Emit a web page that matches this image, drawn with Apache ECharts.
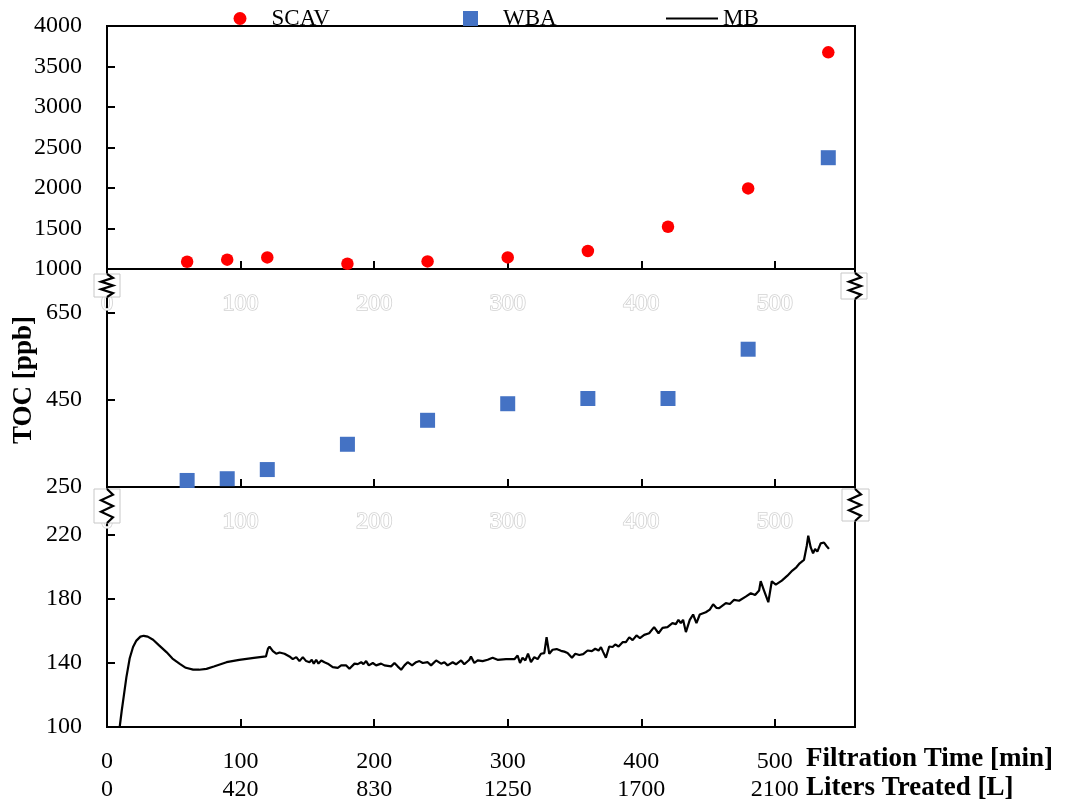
<!DOCTYPE html>
<html>
<head>
<meta charset="utf-8">
<script src="https://cdn.jsdelivr.net/npm/echarts@6/dist/echarts.min.js"></script>
<style>
  html, body { margin: 0; padding: 0; background: #fff; }
  #chart { width: 1072px; height: 803px; }
</style>
</head>
<body>
<div id="chart"></div>
<script>
// Shared x-axis tick labels: filtration time and the matching treated volume
const timeTicks = [0, 100, 200, 300, 400, 500];
const litersTicks = [0, 420, 830, 1250, 1700, 2100];

// Grab samples (min) and TOC (ppb) for the two resin effluents
const sampleTimes = [60, 90, 120, 180, 240, 300, 360, 420, 480, 540];
const scavToc = [1090, 1115, 1143, 1065, 1094, 1143, 1222, 1522, 1995, 3675];
const wbaToc = [265, 269, 290, 348, 403, 441, 453, 453, 566, 2374];

// Online MB effluent TOC trace
const mbTime = [
  9.5, 11, 12.5, 14.5, 17, 19.5, 22, 25, 27.5, 30.5, 34.5, 39, 44.5, 49, 54.5, 59, 64.5, 69, 74.5, 80,
  89.5, 99, 110, 119, 120.5, 121.7, 124.2, 126.7, 129.2, 132.9, 136.6, 139.1, 141.7, 144.1, 146.6, 149.1,
  151.6, 153.3, 154.8, 156.6, 158.3, 160.4, 162.8, 165.3, 169, 172.8, 175.3, 179.1, 181.5, 185.3, 187.7,
  190.3, 192, 194, 196, 199, 201.5, 205.2, 207.7, 212.7, 215.2, 217.6, 220.2, 222.7, 225.1, 228.4, 231.4,
  233.9, 236.4, 240.1, 242.6, 246.4, 250.1, 252.6, 255, 258.8, 261.3, 265.1, 267.5, 271.3, 272.5, 275,
  277.5, 281.2, 285, 288.7, 292.4, 298.7, 305, 307.4, 309.2, 311.1, 313.2, 315.2, 317.4, 319.9, 322.4,
  324.9, 327.4, 329.1, 331.1, 333.6, 336.6, 339.9, 342.4, 344.8, 348.1, 350.6, 353.6, 356.5, 359.8, 363,
  365.5, 368, 369.8, 371.5, 373.5, 376, 378.5, 380.5, 383, 386, 388.5, 391, 393.5, 396.4, 399, 402.2,
  405.9, 409.6, 412.9, 415.9, 419.6, 423.3, 425.9, 427.8, 429.6, 431.3, 433.4, 436.3, 438.8, 441.3, 443.8,
  448.3, 451.3, 453.8, 456.2, 458.3, 463.3, 466.3, 469.5, 473.2, 478.2, 482, 485.2, 488.2, 489.4, 491.9,
  495.1, 497.7, 500.7, 505.2, 509.4, 513.1, 516.1, 518.6, 521.8, 523.9, 525, 526.8, 528.6, 530.1, 531.8,
  534.3, 536.8, 538.5, 540.5
];
const mbToc = [
  100, 110, 119, 131, 143, 150, 154, 156.5, 157, 156.5, 154.5, 151, 146.8, 142.8, 139.5, 137, 135.9, 135.8, 136.3, 137.8,
  140.5, 142, 143.2, 144.1, 148.9, 150.3, 147.4, 145.8, 146.6, 145.8, 144.1, 142.4, 143.7, 141.2, 143.7, 141.2,
  140.5, 142, 139.6, 142, 139.6, 141.6, 140.5, 139.6, 137.4, 137, 138.5, 138.5, 136.4, 139.6, 139.3,
  140.5, 139.3, 141.2, 138.5, 140, 138.5, 139.6, 138.5, 137.9, 140, 137.9, 135.8, 138.5, 140.5, 138.5, 140.5,
  141.2, 140, 140.5, 138.5, 141.6, 139.6, 140.5, 138.5, 140.5, 139.2, 141.6, 139.2, 142, 144.1, 140,
  141.6, 141.2, 142, 143.3, 142, 142.4, 142.4, 144.7, 140, 143.3, 141.6, 145.8, 140.5, 143.7, 142.4,
  145.8, 146.2, 156.1, 145.8, 148.3, 148.7, 147.6, 147.1, 146.3, 143.3, 145.8, 145, 145.5, 147.8, 147.4,
  148.9, 147.8, 149.9, 146.8, 143.3, 150.3, 150, 151.6, 150.3, 153, 153, 156.1, 154.3, 157.2, 155.6, 157.6,
  158.6, 162.4, 158.6, 162, 162.4, 164.9, 164.3, 167, 164.9, 167, 159.3, 167, 170.3, 164.9, 170.3,
  171.7, 173.4, 176.7, 174.5, 174.3, 177.4, 176.9, 179.5, 178.9, 181.5, 183.6, 182.5, 185.3, 191.1, 185.3,
  178, 191.1, 189, 191.5, 194.6, 197.8, 199.8, 202.3, 204.4, 213.3, 219.6, 212.4, 208.5, 211.2, 209.6,
  214.8, 215.3, 213.3, 211.3
];

const SERIF = '"Liberation Serif", "Times New Roman", serif';
const TICK_FONT = 24;

const pairs = (xs, ys) => xs.map((x, i) => [x, ys[i]]);
const wbaAll = pairs(sampleTimes, wbaToc);
const wbaLow = wbaAll.filter(p => p[1] <= 750);   // middle (broken) panel
const wbaHigh = wbaAll.filter(p => p[1] >= 1000); // upper panel

const GRID_LEFT = 107, GRID_WIDTH = 748;
const grids = [
  { left: GRID_LEFT, width: GRID_WIDTH, top: 26, height: 243 },
  { left: GRID_LEFT, width: GRID_WIDTH, top: 269, height: 218 },
  { left: GRID_LEFT, width: GRID_WIDTH, top: 487, height: 240 }
].map(g => Object.assign(g, {
  show: true, borderColor: '#000', borderWidth: 2, backgroundColor: 'transparent',
  containLabel: false, outerBoundsMode: 'none'
}));

const axisLine = { show: true, lineStyle: { color: '#000', width: 2 } };
const axisTick = { show: true, inside: true, length: 8, lineStyle: { color: '#000', width: 2 } };

// Labels of the upper panels: white text with a faint outline
const ghostLabel = {
  show: true, margin: 21, fontFamily: SERIF, fontSize: TICK_FONT, lineHeight: 28,
  color: '#ffffff', textBorderColor: '#d2d2d2', textBorderWidth: 1.6,
  showMaxLabel: false, formatter: v => String(v)
};

function xAxisFor(gridIndex, label) {
  return {
    type: 'value', gridIndex, min: 0, max: 560, interval: 100,
    axisLine, axisTick, splitLine: { show: false }, axisLabel: label
  };
}

const xAxes = [
  xAxisFor(0, ghostLabel),
  xAxisFor(1, ghostLabel),
  xAxisFor(2, {
    show: true, margin: 21, showMaxLabel: false,
    formatter: v => {
      const i = timeTicks.indexOf(v);
      return i < 0 ? '' : '{t|' + timeTicks[i] + '}\n{l|' + litersTicks[i] + '}';
    },
    rich: {
      t: { fontFamily: SERIF, fontSize: TICK_FONT, lineHeight: 28, color: '#000' },
      l: { fontFamily: SERIF, fontSize: TICK_FONT, lineHeight: 28, color: '#000' }
    }
  })
];

function yAxisFor(gridIndex, min, max, interval, showMax) {
  return {
    type: 'value', gridIndex, min, max, interval,
    axisLine, axisTick, splitLine: { show: false },
    axisLabel: {
      margin: 25, fontFamily: SERIF, fontSize: TICK_FONT, color: '#000',
      showMaxLabel: showMax, showMinLabel: true, formatter: v => String(v)
    }
  };
}

const yAxes = [
  yAxisFor(0, 1000, 4000, 500, true),
  yAxisFor(1, 250, 750, 200, false),
  yAxisFor(2, 100, 250, 40, false)
];

const SCAV_COLOR = '#ff0000';
const WBA_COLOR = '#4472c4';

const series = [
  {
    name: 'SCAV', type: 'scatter', xAxisIndex: 0, yAxisIndex: 0,
    symbol: 'circle', symbolSize: 12.5, itemStyle: { color: SCAV_COLOR, opacity: 1 },
    data: pairs(sampleTimes, scavToc), z: 3
  },
  {
    name: 'WBA', type: 'scatter', xAxisIndex: 0, yAxisIndex: 0,
    symbol: 'rect', symbolSize: 15, itemStyle: { color: WBA_COLOR, opacity: 1 },
    data: wbaHigh, z: 3
  },
  {
    name: 'WBA', type: 'scatter', xAxisIndex: 1, yAxisIndex: 1,
    symbol: 'rect', symbolSize: 15, itemStyle: { color: WBA_COLOR, opacity: 1 },
    data: wbaLow, z: 3
  },
  {
    name: 'MB', type: 'line', xAxisIndex: 2, yAxisIndex: 2,
    symbol: 'none', smooth: false,
    lineStyle: { color: '#000', width: 2.2 }, itemStyle: { color: '#000' },
    data: pairs(mbTime, mbToc), z: 3
  }
];

const legendText = (padLeft) => ({ fontFamily: SERIF, fontSize: 23, color: '#000', padding: [0, 0, 0, padLeft] });
const legends = [
  { data: [{ name: 'SCAV', icon: 'circle' }], left: 233.5, top: 7, itemWidth: 13, itemHeight: 13,
    textStyle: legendText(20), itemStyle: { opacity: 1 } },
  { data: [{ name: 'WBA', icon: 'rect' }], left: 463, top: 7, itemWidth: 15, itemHeight: 15,
    textStyle: legendText(20), itemStyle: { opacity: 1 } },
  { data: [{ name: 'MB', icon: 'rect' }], left: 666, top: 7, itemWidth: 52, itemHeight: 2,
    textStyle: legendText(0), itemStyle: { color: '#000', opacity: 1 } }
].map(l => Object.assign(l, { orient: 'horizontal', selectedMode: false, padding: 0, itemGap: 0 }));

// Axis-break marker: white box with a faint outline and a zigzag across the axis line
function axisBreak(axisX, boxLeft, top, boxW, boxH) {
  const steps = 6;
  const pts = [[axisX, top]];
  for (let i = 1; i < steps; i++) {
    pts.push([axisX + (i % 2 ? 6 : -6), top + (boxH * i) / steps]);
  }
  pts.push([axisX, top + boxH]);
  return [
    {
      type: 'rect', z: 100,
      shape: { x: boxLeft, y: top, width: boxW, height: boxH },
      style: { fill: '#fff', stroke: '#c8c8c8', lineWidth: 1 }
    },
    {
      type: 'polyline', z: 101,
      shape: { points: pts },
      style: { stroke: '#000', lineWidth: 2.2, fill: null }
    }
  ];
}

const titleFont = 'bold 27px ' + SERIF;
const graphic = [
  {
    type: 'text', x: 24, y: 380, rotation: Math.PI / 2, z: 50,
    style: { text: 'TOC [ppb]', font: titleFont, fill: '#000',
             textAlign: 'center', textVerticalAlign: 'middle', align: 'center', verticalAlign: 'middle' }
  },
  {
    type: 'text', x: 806, y: 759, z: 50,
    style: { text: 'Filtration Time [min]', font: titleFont, fill: '#000',
             textAlign: 'left', textVerticalAlign: 'middle', align: 'left', verticalAlign: 'middle' }
  },
  {
    type: 'text', x: 806, y: 788, z: 50,
    style: { text: 'Liters Treated [L]', font: titleFont, fill: '#000',
             textAlign: 'left', textVerticalAlign: 'middle', align: 'left', verticalAlign: 'middle' }
  },
  ...axisBreak(107, 94, 274, 26, 23),
  ...axisBreak(855, 841, 273, 26, 26),
  ...axisBreak(107, 94, 489, 26, 34),
  ...axisBreak(855, 842, 489, 27, 32)
];

const chart = echarts.init(document.getElementById('chart'), null, { renderer: 'canvas' });
chart.setOption({
  animation: false,
  backgroundColor: '#fff',
  grid: grids,
  xAxis: xAxes,
  yAxis: yAxes,
  legend: legends,
  series,
  graphic
});
</script>
</body>
</html>
